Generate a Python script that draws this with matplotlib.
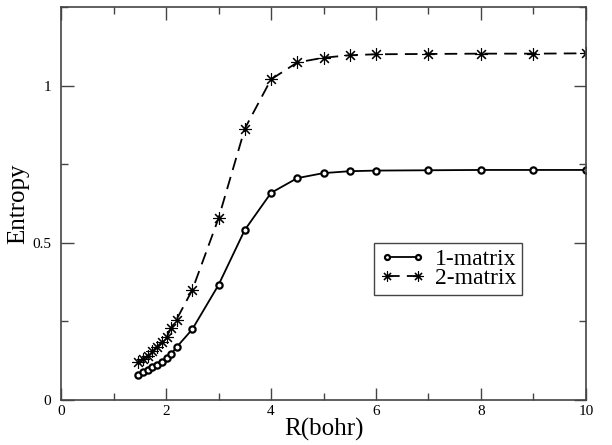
import matplotlib
matplotlib.use("Agg")
import matplotlib.pyplot as plt
from matplotlib.ticker import MultipleLocator

# R values (bohr)
r_vals = [1.47, 1.56, 1.65, 1.74, 1.83, 1.92, 2.01, 2.1, 2.2,
          2.5, 3.0, 3.5, 4.0, 4.5, 5.0, 5.5, 6.0, 7.0, 8.0, 9.0, 10.0]

# entropy of the 1-matrix
s_one = [0.080, 0.088, 0.096, 0.104, 0.113, 0.122, 0.134, 0.147, 0.168,
         0.225, 0.366, 0.541, 0.659, 0.706, 0.722, 0.728, 0.730, 0.731, 0.732, 0.732, 0.732]

# entropy of the 2-matrix
s_two = [0.120, 0.131, 0.141, 0.155, 0.170, 0.184, 0.200, 0.230, 0.256,
         0.350, 0.578, 0.863, 1.020, 1.074, 1.089, 1.097, 1.100, 1.101, 1.102, 1.102, 1.103]

labels = ['1-matrix', '2-matrix']
x_ticks = [0, 2, 4, 6, 8, 10]
y_ticks = [0, 0.5, 1]
y_ticklabels = ['0', '0.5', '1']

plt.rcParams['font.family'] = ['Liberation Serif', 'DejaVu Serif']

fig = plt.figure(figsize=(6.12, 4.45), dpi=100)
ax = fig.add_axes([0.0997, 0.101, 0.8578, 0.883])

ax.plot(r_vals, s_one, color='black', lw=1.3, ls='-',
        marker='o', ms=4.5, mfc='white', mec='black', mew=1.6, label=labels[0])
ax.plot(r_vals, s_two, color='black', lw=1.3, ls=(0, (7, 4)),
        marker=(8, 2, 0), ms=9, mec='black', mew=0.8, label=labels[1])

ax.set_xlim(0, 10)
ax.set_ylim(0, 1.25)
ax.set_xticks(x_ticks)
ax.set_xticklabels([str(t) for t in x_ticks])
ax.xaxis.set_minor_locator(MultipleLocator(1))
ax.set_yticks(y_ticks)
ax.set_yticklabels(y_ticklabels)
ax.yaxis.set_minor_locator(MultipleLocator(0.25))

ax.tick_params(which='both', direction='in', top=True, right=True,
               labelsize=11, color='#444444')
ax.tick_params(axis='y', pad=7)
ax.tick_params(which='major', length=9, width=1)
ax.tick_params(which='minor', length=5, width=1)
for sp in ax.spines.values():
    sp.set_color('#444444')
    sp.set_linewidth(1.2)

ax.set_xlabel('R(bohr)', fontsize=18, labelpad=0)
ax.set_ylabel('Entropy', fontsize=18, labelpad=2)

leg = ax.legend(loc='upper left', bbox_to_anchor=(0.597, 0.4), borderaxespad=0,
                fancybox=False, edgecolor='#444444', fontsize=17,
                handlelength=1.9, handletextpad=0.4, labelspacing=-0.1,
                borderpad=0.25, numpoints=2, markerscale=0.8, framealpha=1)
leg.get_frame().set_linewidth(1.0)

fig.savefig('out.png', dpi=100)
